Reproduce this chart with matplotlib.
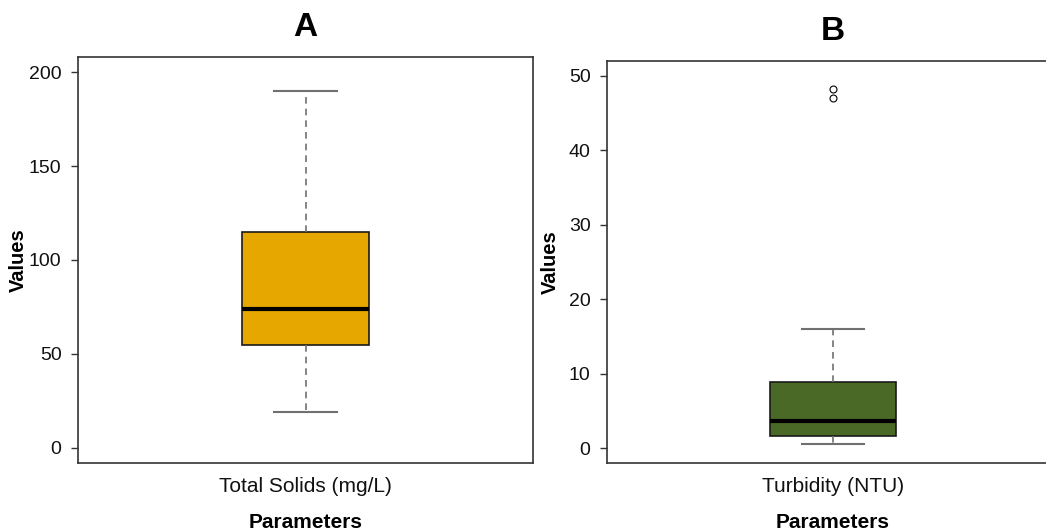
import matplotlib
matplotlib.use("Agg")
import matplotlib.pyplot as plt

plt.rcParams['font.family'] = ['Liberation Sans', 'DejaVu Sans']

# Panel A data (Total Solids, mg/L)
a_label = "Total Solids (mg/L)"
a_whislo, a_q1, a_med, a_q3, a_whishi = 19, 55, 74, 115, 190
a_fliers = []

# Panel B data (Turbidity, NTU)
b_label = "Turbidity (NTU)"
b_whislo, b_q1, b_med, b_q3, b_whishi = 0.6, 1.6, 3.6, 8.9, 16
b_fliers = [47.0, 48.2]

a_yticks = [0, 50, 100, 150, 200]
b_yticks = [0, 10, 20, 30, 40, 50]

W, H = 1046, 531
fig = plt.figure(figsize=(W / 100, H / 100), dpi=100)

def make_axes(l, t, r, b):
    return fig.add_axes([l / W, 1 - b / H, (r - l) / W, (b - t) / H])

axA = make_axes(78, 57, 533, 463)
axB = make_axes(607, 61, 1059, 463)

def draw(ax, label, stats, fliers, color, yticks, ylim):
    st = [dict(label=label, whislo=stats[0], q1=stats[1], med=stats[2],
               q3=stats[3], whishi=stats[4], fliers=fliers)]
    ax.bxp(st, positions=[1], widths=0.3, patch_artist=True, showfliers=True,
           boxprops=dict(facecolor=color, edgecolor='#1a1a1a', linewidth=1.2),
           medianprops=dict(color='black', linewidth=3),
           whiskerprops=dict(color='#707070', linestyle=(0, (4, 3)), linewidth=1.2),
           capprops=dict(color='#707070', linewidth=1.5),
           capwidths=0.15,
           flierprops=dict(marker='o', markersize=5, markerfacecolor='white',
                           markeredgecolor='black', markeredgewidth=0.8))
    ax.set_xlim(0.46, 1.54)
    ax.set_ylim(*ylim)
    ax.set_yticks(yticks)
    ax.tick_params(axis='y', length=5.3, width=1, color='#333333', pad=6.5,
                   labelsize=14, labelcolor='#111111')
    ax.tick_params(axis='x', length=0, pad=10, labelsize=15, labelcolor='#111111')
    for s in ax.spines.values():
        s.set_color('#333333')
        s.set_linewidth(1.2)
    ax.set_ylabel("Values", fontsize=14.5, fontweight='bold')
    ax.set_xlabel("Parameters", fontsize=15, fontweight='bold')

draw(axA, a_label, (a_whislo, a_q1, a_med, a_q3, a_whishi), a_fliers,
     '#E6A800', a_yticks, (-8, 208))
draw(axB, b_label, (b_whislo, b_q1, b_med, b_q3, b_whishi), b_fliers,
     '#4B6926', b_yticks, (-2, 52))

axA.yaxis.set_label_coords(-50 / 455, 0.5)
axB.yaxis.set_label_coords(-47 / 452, 0.5)
axA.xaxis.set_label_coords(0.5, -50 / 406)
axB.xaxis.set_label_coords(0.5, -50 / 402)

fig.text(305.5 / W, 1 - 27.5 / H, "A", fontsize=24, fontweight='bold', ha='center', va='center')
fig.text(833 / W, 1 - 32 / H, "B", fontsize=24, fontweight='bold', ha='center', va='center')

fig.savefig("out.png", dpi=100)
